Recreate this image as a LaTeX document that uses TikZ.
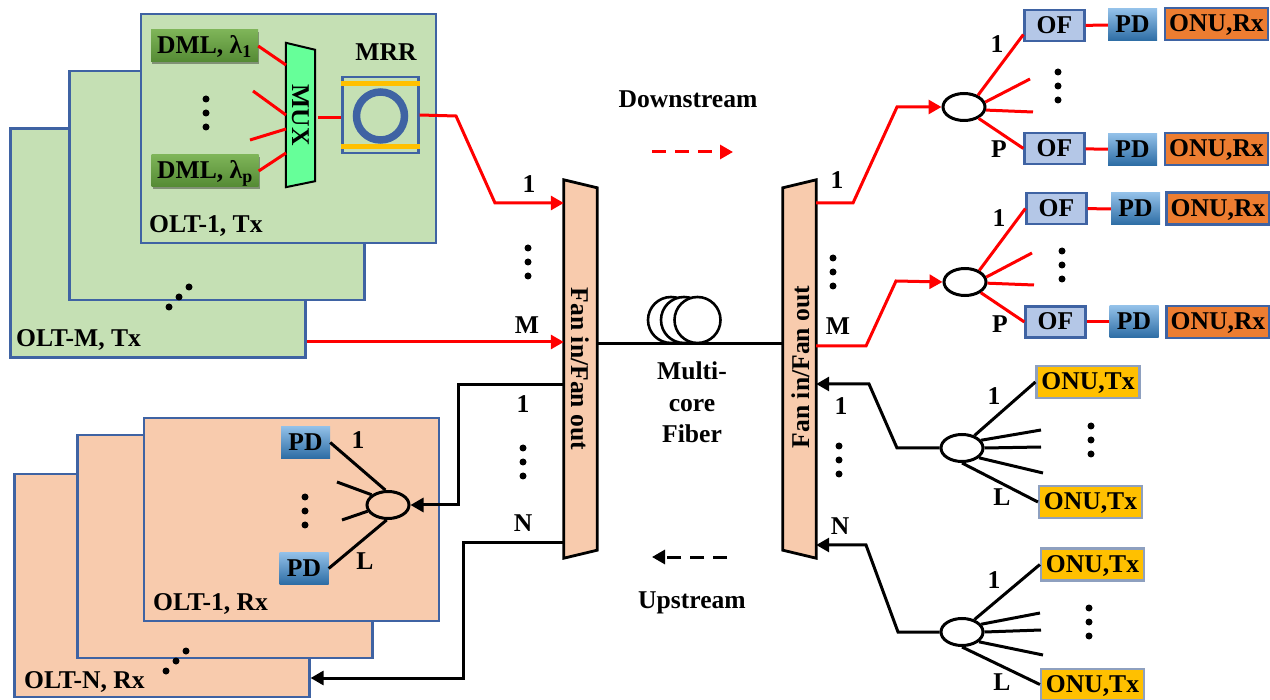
\documentclass[tikz,border=0pt]{standalone}
\usepackage{fontspec}
\setmainfont{Liberation Serif}
\usetikzlibrary{arrows.meta,shapes.geometric,shadows}
\definecolor{panelblue}{HTML}{3F63A3}
\definecolor{txgreen}{HTML}{C5E0B4}
\definecolor{rxpeach}{HTML}{F8CBAD}
\definecolor{barorange}{HTML}{FFC000}

\begin{document}
\begin{tikzpicture}[
  x=1pt, y=-1pt,
  font=\fontsize{25.6}{28}\selectfont\bfseries,
  lbl/.style={inner sep=0pt, text height=16pt, text depth=0pt},
  box/.style={lbl, draw=panelblue, line width=2.2pt},
  txpanel/.style={draw=panelblue, line width=2.2pt, fill=txgreen, minimum width=295pt, minimum height=229pt},
  rxpanel/.style={txpanel, fill=rxpeach, minimum height=223pt},
  dmlbox/.style={lbl, minimum width=107pt, minimum height=32pt,
    top color={rgb,255:red,126;green,180;blue,88}, bottom color={rgb,255:red,84;green,138;blue,52},
    drop shadow={shadow xshift=1pt, shadow yshift=-2pt, opacity=.35, fill=black}},
  ofbox/.style={box, fill={rgb,255:red,180;green,199;blue,231}, minimum width=60pt, minimum height=31pt},
  pdbox/.style={lbl, minimum width=49pt, minimum height=32pt,
    top color={rgb,255:red,146;green,192;blue,232}, bottom color={rgb,255:red,44;green,108;blue,164}},
  onurx/.style={box, fill={rgb,255:red,237;green,125;blue,49}, minimum width=103pt, minimum height=32pt},
  onutx/.style={box, draw={rgb,255:red,142;green,160;blue,191}, fill=barorange, minimum width=103pt, minimum height=32pt},
  splitter/.style={ellipse, draw, line width=3pt, inner sep=0pt, minimum width=42pt, minimum height=27pt},
  fanbody/.style={minimum width=33pt, minimum height=378pt, inner sep=0pt},
  fanpoly/.style={draw, line width=2.8pt, fill=rxpeach},
  muxpoly/.style={draw, line width=2pt, fill={rgb,255:red,102;green,255;blue,153}},
  coil/.style={circle, draw, line width=2.6pt, fill=white, minimum size=46pt, inner sep=0pt},
  dot/.style={circle, fill=black, inner sep=0pt, minimum size=7pt},
  redline/.style={red, line width=3pt},
  blackline/.style={black, line width=3pt},
  redarrow/.style={redline, -{Triangle[length=13pt,width=14pt]}},
  blackarrow/.style={blackline, -{Triangle[length=13pt,width=14pt]}}
]
\useasboundingbox (0,0) rectangle (1270,700);

\node[txpanel] (txc) at (158,243) {};
\node[txpanel] (txb) at (217,185.5) {};
\node[txpanel] (txa) at (288.5,128.5) {};
\node[rxpanel] (rxc) at (162,585.5) {};
\node[rxpanel] (rxb) at (225,546.5) {};
\node[rxpanel, minimum height=203pt] (rxa) at (291.5,519.5) {};

\node[lbl, anchor=west] (txalabel) at (149,225) {OLT-1, Tx};
\node[lbl, anchor=west] (txclabel) at (16,339) {OLT-M, Tx};
\node[lbl, anchor=west] (rxalabel) at (153,602) {OLT-1, Rx};
\node[lbl, anchor=west] (rxclabel) at (24,680) {OLT-N, Rx};

\node[dmlbox] (dmla) at (204.5,46) {DML, λ\textsubscript{1}};
\node[dmlbox] (dmlp) at (205,171) {DML, λ\textsubscript{p}};
\node[minimum width=29pt, minimum height=144pt, inner sep=0pt] (mux) at (300.5,115) {};
\draw[muxpoly] (mux.north west) -- ([yshift=-7pt]mux.north east) -- ([yshift=6pt]mux.south east) -- (mux.south west) -- cycle;
\node[lbl, rotate=-90] (muxlabel) at (300,115) {MUX};
\node[draw=panelblue, line width=2.2pt, minimum width=76pt, minimum height=76pt, inner sep=0pt] (mrr) at (380.5,115) {};
\draw[barorange, line width=5.5pt] ([yshift=-7.5pt]mrr.north west) -- ([yshift=-7.5pt]mrr.north east);
\draw[barorange, line width=5.5pt] ([yshift=7.5pt]mrr.south west) -- ([yshift=7.5pt]mrr.south east);
\node[circle, draw=panelblue, line width=7.5pt, minimum size=48pt, inner sep=0pt] (ring) at (380.5,116) {};
\node[lbl] (mrrlabel) at (386,53) {MRR};

\coordinate (muxin1) at (286,65);
\coordinate (muxin2) at (286,115);
\coordinate (muxin3) at (286,129);
\coordinate (muxin4) at (286,153);
\coordinate (muxout) at (318,118);
\coordinate (stub1) at (253,91);
\coordinate (stub2) at (250,140);
\draw[redline] (dmla.east) -- (muxin1);
\draw[redline] (stub1) -- (muxin2);
\draw[redline] (stub2) -- (muxin3);
\draw[redline] (dmlp.east) -- (muxin4);
\draw[redline] (muxout) -- (mrr.west |- muxout);

\node[fanbody] (fanl) at (580.5,369) {};
\draw[fanpoly] (fanl.north west) -- ([yshift=-8pt]fanl.north east) -- ([yshift=8pt]fanl.south east) -- (fanl.south west) -- cycle;
\node[lbl, rotate=-90] (fanllabel) at (579,369) {Fan in/Fan out};
\node[fanbody] (fanr) at (799.5,369) {};
\draw[fanpoly] ([yshift=-8pt]fanr.north west) -- (fanr.north east) -- (fanr.south east) -- ([yshift=8pt]fanr.south west) -- cycle;
\node[lbl, rotate=90] (fanrlabel) at (801,367) {Fan in/Fan out};

\draw[blackline] (fanl.east |- 0,344) -- (fanr.west |- 0,344);
\node[coil] (coila) at (671,320) {};
\node[coil] (coilb) at (684,320) {};
\node[coil] (coilc) at (697.5,320) {};
\node[lbl] (fibera) at (692,372) {Multi-};
\node[lbl] (fiberb) at (692,404) {core};
\node[lbl] (fiberc) at (692,435) {Fiber};

\draw[redarrow] (mrr.east) -- (456,116) -- (495,203) -- (fanl.west |- 0,203);
\draw[redarrow] (txc.east |- 0,342) -- (fanl.west |- 0,342);

\node[splitter] (spe) at (388,505) {};
\node[pdbox] (pde) at (305.5,442.5) {PD};
\node[pdbox] (pdf) at (304,568.5) {PD};
\coordinate (stub3) at (337,482);
\coordinate (stub4) at (342,520);
\draw[blackline] (pde.east) -- (spe.100);
\draw[blackline] (stub3) -- (spe.148);
\draw[blackline] (stub4) -- (spe.197);
\draw[blackline] (pdf.east) -- (spe.265);
\draw[blackarrow] (fanl.west |- 0,385) -- (458,385) -- (458,505) -- (spe.east);
\draw[blackarrow] (fanl.west |- 0,543) -- (463,543) -- (463,678) -- (rxc.east |- 0,678);

\node[splitter] (spa) at (964,107) {};
\node[ofbox] (ofa) at (1054.5,25.5) {OF};
\node[ofbox] (ofb) at (1054.5,148.5) {OF};
\node[pdbox] (pda) at (1132.5,25) {PD};
\node[pdbox] (pdb) at (1132.5,149.5) {PD};
\node[onurx] (onra) at (1216.5,24) {ONU,Rx};
\node[onurx] (onrb) at (1216.5,149) {ONU,Rx};
\coordinate (stub5) at (1030,79);
\coordinate (stub6) at (1033,112);
\draw[redarrow] (fanr.east |- 0,203) -- (853,203) -- (897,107) -- (spa.west);
\draw[redline] (spa.40) -- ([yshift=-9pt]ofa.west);
\draw[redline] (spa.13) -- (stub5);
\draw[redline] (spa.-8) -- (stub6);
\draw[redline] (spa.-38) -- (ofb.west);
\draw[redline] (ofa) -- (pda);
\draw[redline] (ofb) -- (pdb);

\node[splitter] (spb) at (965,282) {};
\node[ofbox] (ofc) at (1056.5,208.5) {OF};
\node[ofbox] (ofd) at (1055.5,322) {OF};
\node[pdbox] (pdc) at (1135.5,209) {PD};
\node[pdbox] (pdd) at (1134,322) {PD};
\node[onurx] (onrc) at (1218,208.5) {ONU,Rx};
\node[onurx] (onrd) at (1218,322) {ONU,Rx};
\coordinate (stub7) at (1032,253);
\coordinate (stub8) at (1034,285);
\draw[redarrow] (fanr.east |- 0,346) -- (866,346) -- (896,281) -- (spb.west);
\draw[redline] (spb.39) -- (ofc.west);
\draw[redline] (spb.13) -- (stub7);
\draw[redline] (spb.-3) -- (stub8);
\draw[redline] (spb.-34) -- (ofd.west);
\draw[redline] (ofc) -- (pdc);
\draw[redline] (ofd) -- (pdd);

\node[splitter] (spc) at (962,448) {};
\node[onutx] (onta) at (1088,382) {ONU,Tx};
\node[onutx] (ontb) at (1090.5,502) {ONU,Tx};
\coordinate (stub9) at (1041,430);
\coordinate (stub10) at (1041,447);
\coordinate (stub11) at (1043,473);
\draw[blackarrow] (spc.west) -- (897,448) -- (869,384) -- (fanr.east |- 0,384);
\draw[blackline] (spc.45) -- (onta.west);
\draw[blackline] (spc.22) -- (stub9);
\draw[blackline] (spc.0) -- (stub10);
\draw[blackline] (spc.-30) -- (stub11);
\draw[blackline] (spc.-90) -- (ontb.west);

\node[splitter] (spd) at (962,632) {};
\node[onutx] (ontc) at (1092.5,564.5) {ONU,Tx};
\node[onutx, minimum height=31pt] (ontd) at (1092.5,684.5) {ONU,Tx};
\coordinate (stub12) at (1040,613);
\coordinate (stub13) at (1041,630);
\coordinate (stub14) at (1043,655);
\draw[blackarrow] (spd.west) -- (898,632) -- (866,545) -- (fanr.east |- 0,545);
\draw[blackline] (spd.45) -- (ontc.west);
\draw[blackline] (spd.22) -- (stub12);
\draw[blackline] (spd.0) -- (stub13);
\draw[blackline] (spd.-30) -- (stub14);
\draw[blackline] (spd.-90) -- (ontd.west);

\foreach \x/\y/\t in {529/185/1, 527/326/M, 523/405/1, 523/524/N, 837/181/1, 838/327/M, 841/407/1, 840/526/N,
    358/441/1, 365/561/L, 997/45/1, 999/150/P, 999/219/1, 1000/325/P, 994/397/1, 1002/498/L, 994/580/1, 1002/682/L}
  \node[lbl] (port\x-\y) at (\x,\y) {\t};

\foreach \x/\y in {206/99, 528/248, 523/448, 833/258, 839/446, 305/497, 1058/72, 1062/251, 1091/426, 1089/608}
  \foreach \i in {0,1,2}
    \node[dot] (dots\x-\i) at (\x,\y+14*\i) {};
\foreach \x/\y in {169/307, 166/671}
  \foreach \i in {0,1,2}
    \node[dot] (skew\x-\i) at (\x+10*\i,\y-10*\i) {};

\node[lbl] (down) at (688,100) {Downstream};
\node[lbl] (up) at (692,600) {Upstream};
\coordinate (downa) at (652,152);
\coordinate (downb) at (733,152);
\coordinate (upa) at (727,557);
\coordinate (upb) at (652,557);
\draw[redarrow, dash pattern=on 14pt off 9pt] (downa) -- (downb);
\draw[blackarrow, dash pattern=on 14pt off 9pt] (upa) -- (upb);
\end{tikzpicture}
\end{document}
